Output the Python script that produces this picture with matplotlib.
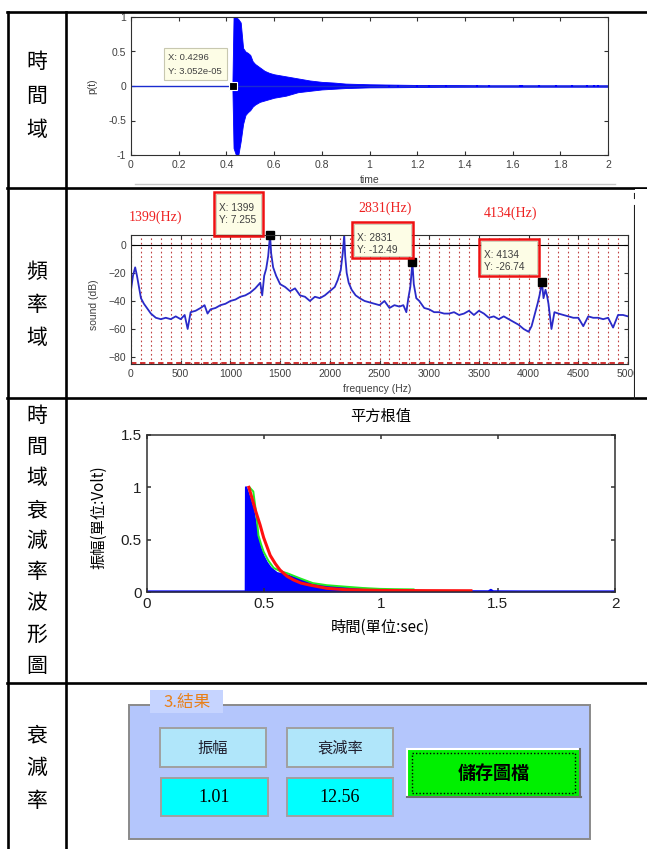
import matplotlib
matplotlib.use('Agg')
import matplotlib.pyplot as plt
from matplotlib.patches import Rectangle
from matplotlib.lines import Line2D
from matplotlib.ticker import MultipleLocator

plt.rcParams['font.family'] = ['Liberation Sans', 'Noto Sans CJK TC', 'DejaVu Sans']
CJK = ['Noto Sans CJK TC', 'DejaVu Sans']

# ---- row labels (left column) ----
row_labels = ['時間域', '頻率域', '時間域衰減率波形圖', '衰減率']

# ---- time domain signal: envelope ----
env_t = [0.425, 0.430, 0.440, 0.450, 0.460, 0.470, 0.480, 0.490, 0.500, 0.510,
         0.520, 0.540, 0.560, 0.580, 0.600, 0.650, 0.700, 0.750, 0.800, 0.850,
         0.900, 1.000, 1.100, 1.200, 1.300, 1.500, 1.700, 2.000]
env_upper = [0.0, 1.0, 1.0, 0.97, 0.92, 0.55, 0.50, 0.48, 0.45, 0.36,
             0.32, 0.27, 0.22, 0.19, 0.17, 0.14, 0.11, 0.08, 0.06, 0.05,
             0.035, 0.025, 0.02, 0.015, 0.015, 0.01, 0.01, 0.01]
env_lower = [0.0, -0.9, -1.0, -1.0, -0.80, -0.55, -0.42, -0.38, -0.35, -0.30,
             -0.27, -0.23, -0.21, -0.19, -0.17, -0.14, -0.09, -0.07, -0.05, -0.04,
             -0.03, -0.02, -0.018, -0.015, -0.012, -0.01, -0.01, -0.01]
blip_t = [1.08, 1.12, 1.2, 1.25, 1.32, 1.45, 1.5, 1.63, 1.64, 1.71, 1.78, 1.85, 1.91, 1.94, 1.96]
tip1 = (0.4296, 3.052e-05)

# ---- spectrum (dB) ----
freq = [0, 20, 42, 60, 80, 100, 130, 160, 200, 250,
        300, 350, 400, 450, 500, 540, 570, 600, 650, 700,
        740, 770, 800, 850, 900, 950, 1000, 1050, 1100, 1150,
        1200, 1250, 1300, 1320, 1340, 1360, 1380, 1399, 1410, 1430,
        1460, 1500, 1550, 1600, 1650, 1700, 1750, 1800, 1850, 1900,
        1950, 2000, 2050, 2080, 2110, 2130, 2145, 2155, 2170, 2190,
        2220, 2260, 2300, 2350, 2400, 2450, 2500, 2550, 2600, 2650,
        2700, 2740, 2770, 2790, 2810, 2831, 2845, 2870, 2900, 2950,
        3000, 3050, 3100, 3150, 3200, 3250, 3300, 3350, 3400, 3450,
        3500, 3550, 3600, 3650, 3700, 3750, 3800, 3850, 3900, 3950,
        4000, 4030, 4060, 4090, 4110, 4134, 4150, 4170, 4185, 4200,
        4230, 4260, 4300, 4350, 4400, 4450, 4500, 4550, 4600, 4650,
        4700, 4750, 4800, 4850, 4900, 4950, 5000]
sound_db = [-32, -22, -16, -22, -30, -38, -42, -45, -49, -52,
            -53, -52, -53, -51, -53, -50, -60, -48, -47, -45,
            -43, -49, -46, -45, -43, -42, -40, -39, -37, -36,
            -34, -31, -27, -36, -22, -17, -8, 7.255, -6, -16,
            -22, -28, -30, -33, -31, -36, -37, -40, -37, -38,
            -36, -33, -30, -25, -18, -6, 7, -8, -20, -27,
            -32, -36, -38, -40, -41, -42, -43, -40, -45, -43,
            -44, -43, -48, -38, -30, -12.49, -28, -38, -40, -45,
            -46, -48, -48, -49, -49, -48, -50, -49, -47, -50,
            -47, -49, -52, -51, -53, -51, -53, -55, -57, -60,
            -62, -58, -50, -42, -36, -26.74, -38, -32, -36, -42,
            -60, -48, -49, -50, -51, -52, -52, -58, -51, -52,
            -52, -53, -52, -59, -50, -50, -51]
peak_f = [1399, 2831, 4134]
peak_db = [7.255, -12.49, -26.74]

# ---- RMS decay ----
rms_t = [0, 0.424, 0.425, 0.44, 0.456, 0.47, 0.485, 0.50, 0.514, 0.53,
         0.557, 0.60, 0.64, 0.70, 0.71, 0.75, 0.784, 0.85, 0.925, 1.0,
         1.04, 1.1, 1.2, 1.46, 1.47, 1.48, 1.6, 2.0]
rms_blue = [0.005, 0.005, 1.0, 0.9, 0.78, 0.6, 0.43, 0.34, 0.28, 0.23,
            0.18, 0.16, 0.13, 0.085, 0.07, 0.06, 0.05, 0.04, 0.03, 0.02,
            0.015, 0.01, 0.008, 0.006, 0.02, 0.006, 0.005, 0.005]
green_t = [0.44, 0.456, 0.47, 0.478, 0.49, 0.50, 0.52, 0.543, 0.57, 0.60,
           0.656, 0.71, 0.77, 0.855, 0.925, 0.996, 1.06, 1.14]
green_v = [1.0, 0.96, 0.72, 0.54, 0.45, 0.385, 0.30, 0.23, 0.20, 0.18,
           0.13, 0.085, 0.065, 0.05, 0.038, 0.03, 0.027, 0.025]
red_t = [0.437, 0.45, 0.465, 0.485, 0.50, 0.528, 0.55, 0.57, 0.60, 0.628,
         0.66, 0.70, 0.77, 0.85, 1.0, 1.2, 1.385]
red_v = [1.0, 0.9, 0.78, 0.64, 0.52, 0.35, 0.27, 0.21, 0.15, 0.115,
         0.085, 0.065, 0.035, 0.022, 0.015, 0.013, 0.012]

amp_value = 1.01
decay_value = 12.56

W, H = 647, 849
fig = plt.figure(figsize=(W / 100, H / 100), dpi=100)


def fx(x):
    return x / W


def fy(y):
    return 1 - y / H


def axrect(l, t, r, b):
    return [l / W, 1 - b / H, (r - l) / W, (b - t) / H]


def fline(xs, ys, **kw):
    fig.add_artist(Line2D([fx(x) for x in xs], [fy(y) for y in ys], **kw))


def frect(l, t, r, b, **kw):
    p = Rectangle((fx(l), fy(b)), (r - l) / W, (b - t) / H, transform=fig.transFigure, **kw)
    fig.add_artist(p)
    return p


def matlab_axes(ax, fs, color='#404040', lw=0.8):
    ax.tick_params(direction='in', top=True, right=True, labelsize=fs, length=3,
                   width=lw, colors='#303030', labelcolor=color)
    for s in ax.spines.values():
        s.set_linewidth(lw)
        s.set_color('#303030')


# ---------------- table frame ----------------
lw_tab = 1.9
for y in [12, 188, 398, 683]:
    fline([7, 647], [y, y], color='black', lw=lw_tab)
fline([8, 8], [12, 849], color='black', lw=lw_tab)
fline([66, 66], [12, 849], color='black', lw=lw_tab)

# left column characters
label_pos = [[62, 96, 130], [272, 305, 338],
             [416, 447, 478, 510, 541, 572, 603, 635, 666], [735, 768, 801]]
for text, ys in zip(row_labels, label_pos):
    for ch, y in zip(text, ys):
        fig.text(fx(37), fy(y), ch, family=CJK, fontsize=15, ha='center', va='center')

# ---------------- row 1: time domain ----------------
ax1 = fig.add_axes(axrect(131, 17, 608, 155))
ax1.axhline(0, color='#1a2ccf', lw=1)
ax1.fill_between(env_t, env_lower, env_upper, color='#0000ff', lw=0.6)
ax1.vlines(blip_t, -0.012, 0.012, color='#0000ff', lw=1.5)
ax1.set_xlim(0, 2)
ax1.set_ylim(-1, 1)
xt = [i * 0.2 for i in range(11)]
ax1.set_xticks(xt, [f'{v:g}' for v in xt])
yt = [-1, -0.5, 0, 0.5, 1]
ax1.set_yticks(yt, [f'{v:g}' for v in yt])
matlab_axes(ax1, 7.5)
ax1.set_xlabel('time', fontsize=7.5, color='#404040', va='center')
ax1.xaxis.set_label_coords(0.5, -0.181)
ax1.set_ylabel('p(t)', fontsize=7.5, color='#404040', va='center')
ax1.yaxis.set_label_coords(-0.082, 0.5)
ax1.plot([tip1[0]], [tip1[1]], 's', color='black', mec='white', mew=0.8, ms=6, clip_on=False)
frect(164, 48, 227, 80, facecolor='#fdfde6', edgecolor='#c8c8b0', lw=0.8)
fig.text(fx(168), fy(58), f'X: {tip1[0]}', fontsize=6.8, color='#404040', va='center')
fig.text(fx(168), fy(71), f'Y: {tip1[1]:.3e}', fontsize=6.8, color='#404040', va='center')
fline([135, 615], [184, 184], color='#c8c8c8', lw=1)

# ---------------- row 2: spectrum ----------------
ax2 = fig.add_axes(axrect(131, 235, 628, 364))
ax2.set_xlim(0, 5000)
ax2.set_ylim(-85, 7.1)
ax2.xaxis.set_major_locator(MultipleLocator(500))
ax2.xaxis.set_minor_locator(MultipleLocator(100))
ax2.set_yticks([-80, -60, -40, -20, 0])
ax2.grid(True, which='both', axis='x', color='#c04040', ls=(0, (1.5, 2.5)), lw=0.8)
ax2.tick_params(which='minor', length=0)
ax2.axhline(0, color='black', lw=0.8)
ax2.axhline(-84.3, color='#d02020', lw=1.3, ls=(0, (3, 2)))
ax2.plot(freq, sound_db, color='#2a2ac8', lw=1.3)
ax2.plot(peak_f, peak_db, 's', color='black', ms=6, clip_on=False)
matlab_axes(ax2, 7.5)
ax2.set_xlabel('frequency (Hz)', fontsize=7.5, color='#404040', va='center')
ax2.xaxis.set_label_coords(0.495, -0.194)
ax2.set_ylabel('sound (dB)', fontsize=7.5, color='#404040', va='center')
ax2.yaxis.set_label_coords(-0.0745, 0.457)

tip_boxes = [(214, 192, 263, 236), (352, 222, 413, 258), (479, 239, 539, 276)]
for (l, t, r, b), f, d in zip(tip_boxes, peak_f, peak_db):
    frect(l + 2, t + 2, r - 2, b - 2, facecolor='#fdfde6', edgecolor='#c8c8b0', lw=0.6)
    frect(l, t, r, b, facecolor='none', edgecolor='#ee1111', lw=1.8)
    fig.text(fx(l + 5), fy(t + 16), f'X: {f}', fontsize=7.3, color='#404040', va='center')
    fig.text(fx(l + 5), fy(t + 28), f'Y: {d}', fontsize=7.3, color='#404040', va='center')
for f, (x, y) in zip(peak_f, [(155, 217), (385, 208), (511, 213)]):
    fig.text(fx(x), fy(y), f'{f}(Hz)', family='Liberation Serif', fontsize=10,
             color='#ee2020', ha='center', va='center')
frect(635, 189, 647, 397, facecolor='white', edgecolor='none', zorder=5)
fline([634, 634], [193, 198], color='#202020', lw=0.8)
fline([634, 634], [205, 398], color='#202020', lw=0.8)

# ---------------- row 3: RMS decay ----------------
ax3 = fig.add_axes(axrect(146.5, 435, 615, 592))
ax3.fill_between(rms_t, 0, rms_blue, color='#0000ff', lw=0)
ax3.plot(rms_t, rms_blue, color='#0000ff', lw=1.6)
ax3.plot(green_t, green_v, color='#22ee22', lw=1.4)
ax3.plot(red_t, red_v, color='#ff1010', lw=2.2)
ax3.set_xlim(0, 2)
ax3.set_ylim(0, 1.5)
ax3.set_xticks([0, 0.5, 1, 1.5, 2], ['0', '0.5', '1', '1.5', '2'])
ax3.set_yticks([0, 0.5, 1, 1.5], ['0', '0.5', '1', '1.5'])
matlab_axes(ax3, 11, color='#202020', lw=1.1)
for lab in ax3.get_xticklabels() + ax3.get_yticklabels():
    lab.set_family(['Liberation Sans Narrow', 'Liberation Sans'])
ax3.set_title('平方根值', family=CJK, fontsize=11, y=1.12, va='center', pad=0)
ax3.set_xlabel('時間(單位:sec)', family=CJK, fontsize=11, va='center')
ax3.xaxis.set_label_coords(0.5, -0.223)
ax3.set_ylabel('振幅(單位:Volt)', family=CJK, fontsize=11, va='center')
ax3.yaxis.set_label_coords(-0.101, 0.478)

# ---------------- row 4: result panel ----------------
frect(129, 705, 590, 839, facecolor='#b4c6fc', edgecolor='#8a8a8a', lw=1.4)
frect(150, 690, 223, 713, facecolor='#c6d4ff', edgecolor='none')
fig.text(fx(187), fy(702), '3.結果', family=CJK, fontsize=12, color='#e8801a',
         ha='center', va='center')
for (l, r), s in zip([(160, 266), (287, 393)], ['振幅', '衰減率']):
    frect(l, 728, r, 767, facecolor='#b0e6fa', edgecolor='#a0a0a0', lw=1.4)
    fig.text(fx((l + r) / 2), fy(748), s, family=CJK, fontsize=11,
             color='#202030', ha='center', va='center')
for (l, r), v in zip([(161, 268), (287, 393)], [amp_value, decay_value]):
    frect(l, 778, r, 816, facecolor='#00ffff', edgecolor='#a0a0a0', lw=1.4)
    fig.text(fx((l + r) / 2), fy(797), f'{v:.2f}', family='Liberation Serif', fontsize=13,
             color='black', ha='center', va='center')
frect(407, 749, 580, 797, facecolor='#00f000', edgecolor='none')
fline([407, 580], [749, 749], color='white', lw=1.5)
fline([407, 407], [749, 797], color='white', lw=1.5)
fline([407, 581], [797, 797], color='#707070', lw=1.5)
fline([580, 580], [749, 797], color='#707070', lw=1.5)
frect(412, 753, 575, 793, facecolor='none', edgecolor='black', lw=1, ls=(0, (1, 1.5)))
fig.text(fx(494), fy(773), '儲存圖檔', family=CJK, fontsize=13, fontweight='bold',
         color='black', ha='center', va='center')

fig.savefig('out.png', dpi=100)
